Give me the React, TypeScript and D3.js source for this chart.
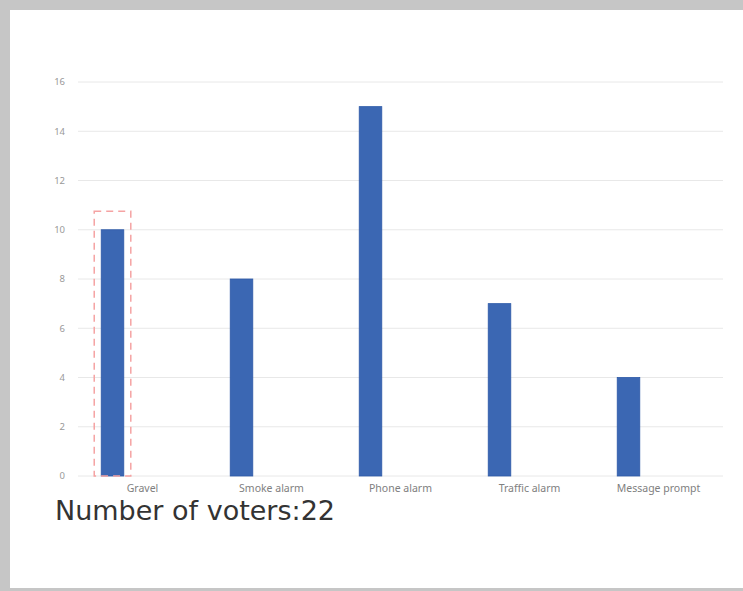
import React from "react";
import * as d3 from "d3";

const categories = ["Gravel", "Smoke alarm", "Phone alarm", "Traffic alarm", "Message prompt"];
const votes = [10, 8, 15, 7, 4];
const yTicks = [0, 2, 4, 6, 8, 10, 12, 14, 16];
const highlighted = "Gravel";
const voterCount = 22;

const W = 743;
const H = 591;
const plot = { left: 78, right: 723, top: 82, bottom: 476 };

export default function App() {
  const x = d3.scaleBand<string>().domain(categories).range([plot.left, plot.right]).paddingInner(0).paddingOuter(0);
  const y = d3.scaleLinear().domain([0, 16]).range([plot.bottom, plot.top]);
  const bw = x.bandwidth();
  const barOffset = bw * 0.18;
  const barWidth = bw * 0.175;

  const hx = (x(highlighted) ?? 0) + barOffset;
  const hv = votes[categories.indexOf(highlighted)];

  return (
    <svg
      width={W}
      height={H}
      style={{ position: "absolute", left: 0, top: 0, display: "block" }}
      fontFamily="'Noto Sans', 'Open Sans', sans-serif"
    >
      <rect x={0} y={0} width={W} height={H} fill="#c6c6c6" />
      <rect x={10} y={10} width={W - 10} height={H - 13} fill="#ffffff" />

      {yTicks.map((t) => (
        <g key={t}>
          <line x1={plot.left} x2={plot.right} y1={y(t)} y2={y(t)} stroke="#e8e8e8" strokeWidth={1} />
          <text x={plot.left - 13} y={y(t)} dy="0.35em" textAnchor="end" fontSize={9.5} fill="#999999">
            {t}
          </text>
        </g>
      ))}

      {categories.map((c, i) => (
        <g key={c}>
          <rect
            x={(x(c) ?? 0) + barOffset}
            y={y(votes[i])}
            width={barWidth}
            height={plot.bottom - y(votes[i])}
            fill="#3b67b3"
            stroke="#2e5aa8"
            strokeWidth={0.8}
          />
          <text
            x={(x(c) ?? 0) + bw / 2}
            y={plot.bottom + 16}
            textAnchor="middle"
            fontSize={10.5}
            fill="#808080"
          >
            {c}
          </text>
        </g>
      ))}

      <rect
        x={hx - 7}
        y={y(hv + 0.75)}
        width={barWidth + 14}
        height={plot.bottom - y(hv + 0.75)}
        fill="none"
        stroke="#f5a3a3"
        strokeWidth={1.5}
        strokeDasharray="7 5"
      />

      <text
        x={55}
        y={520}
        fontSize={27}
        fill="#333333"
        fontFamily="'DejaVu Sans', sans-serif"
        textLength={280}
        lengthAdjust="spacingAndGlyphs"
      >
        {`Number of voters:${voterCount}`}
      </text>
    </svg>
  );
}
